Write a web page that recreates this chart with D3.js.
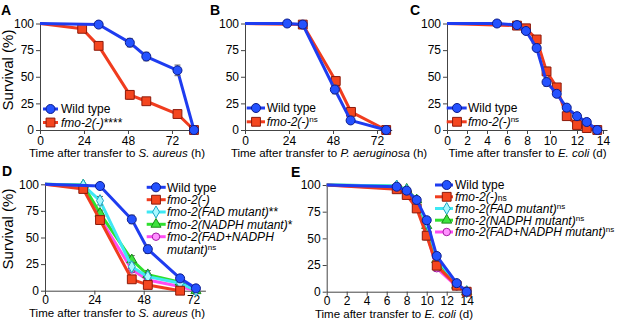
<!DOCTYPE html>
<html>
<head>
<meta charset="utf-8">
<script src="https://cdn.jsdelivr.net/npm/d3@7"></script>
<style>
  body { margin: 0; background: #fff; }
  svg text { font-family: Arial, "Liberation Sans", Helvetica, sans-serif; }
</style>
</head>
<body>
<svg id="fig" width="617" height="324"></svg>
<script>
// survival curves, panels A-E

// tick values
const survTicks = [0, 25, 50, 75, 100];
const hourTicks = [0, 24, 48, 72];
const dayTicks = [0, 2, 4, 6, 8, 10, 12, 14];

// A - S. aureus (h)
const aWtTime = [0, 32, 49, 58, 75, 84];
const aWtSurv = [100, 99, 82, 69, 56, 0];
const aWtErr = [0, 0, 4, 4, 5, 0];
const aMutTime = [0, 23, 32, 49, 58, 75, 84];
const aMutSurv = [100, 95, 79, 33, 27, 15, 0];
const aMutErr = [0, 1, 2, 4, 3, 2, 0];

// B - P. aeruginosa (h)
const bWtTime = [0, 23, 31.5, 49, 57.6, 77];
const bWtSurv = [100, 100, 99, 38, 9, 0];
const bWtErr = [0, 0, 0, 4, 2, 0];
const bMutTime = [0, 31.5, 49.5, 57.8, 77];
const bMutSurv = [100, 99, 46, 17, 0];
const bMutErr = [0, 0, 4, 2, 0];

// C - E. coli (d)
const cWtTime = [0, 5, 7, 7.9, 8.84, 9.7, 10.5, 11.24, 12, 12.75, 13.56];
const cWtSurv = [100, 100, 98.5, 93, 77, 45, 34, 21, 13, 7.5, 0];
const cWtErr = [0, 0, 0, 1, 2, 4, 3, 3, 3, 2, 0];
const cMutTime = [0, 7, 7.9, 8.84, 9.7, 10.5, 11.24, 12, 12.75, 13.56];
const cMutSurv = [100, 98, 95.5, 85, 55, 40, 13, 4.7, 1.8, 0];
const cMutErr = [0, 0, 1, 2, 4, 3, 2, 1, 0, 0];

// D - S. aureus (h), rescue constructs
const dWtTime = [0, 26.75, 42.2, 50, 65.7, 73.4];
const dWtSurv = [100, 98.4, 67, 39, 11.6, 2.2];
const dWtErr = [0, 0, 4, 4, 3, 2];
const dMutTime = [0, 18.6, 26.75, 42.2, 50, 65.7];
const dMutSurv = [100, 95.6, 66.4, 10.7, 5.4, 0];
const dMutErr = [0, 1, 4, 3, 2, 0];
const dRescueTime = [0, 18.6, 26.75, 42.2, 50, 65.7, 73.4];
const dFadSurv = [100, 99, 84.6, 22.6, 13.2, 7, 0.5];
const dFadErr = [0, 0, 4, 4, 3, 2, 0];
const dNadphSurv = [100, 99.3, 72.7, 29, 15, 8, 0];
const dNadphErr = [0, 0, 3, 4, 4, 2, 0];
const dBothSurv = [100, 97, 68, 20, 10, 4, 0];
const dBothErr = [0, 0, 3, 3, 3, 2, 0];

// E - E. coli (d), rescue constructs
const eTime = [0, 7, 8, 9, 10, 11, 13, 14];
const eWtSurv = [100, 98.4, 94.7, 86, 67, 33.5, 8, 0];
const eWtErr = [0, 0, 2, 3, 3, 3, 2, 0];
const eMutSurv = [100, 96, 90.6, 78, 52.5, 24.4, 5.6, 0];
const eMutErr = [0, 1, 2, 3, 4, 4, 2, 0];
const eFadSurv = [100, 99, 95, 85, 65, 32, 7, 0];
const eNadphSurv = [100, 99, 96, 86, 62, 30, 6, 0];
const eBothSurv = [100, 97, 92, 80, 55, 22, 5, 0];
const eSmallErr = [0, 0, 1, 2, 3, 3, 1, 0];

const styles = {
  wt:    { line: '#1e3cf0', fill: '#2452ff', stroke: '#0c1c8c', shape: d3.symbolCircle, size: 64 },
  mut:   { line: '#f03c1e', fill: '#f4461f', stroke: '#8c1a0a', shape: d3.symbolSquare, size: 78 },
  fad:   { line: '#3ee8f4', fill: '#a8f8ff', stroke: '#1ba6c4', shape: d3.symbolDiamond, size: 42 },
  nadph: { line: '#2ee02e', fill: '#3ee23e', stroke: '#178c17', shape: d3.symbolTriangle, size: 44 },
  both:  { line: '#ff4df2', fill: '#ff90ff', stroke: '#a31aa3', shape: d3.symbolCircle, size: 44 }
};

const fig = d3.select('#fig');

function addParts(txt, parts) {
  parts.forEach(([str, kind]) => {
    const ts = txt.append('tspan').text(str);
    if (kind === 'i') ts.attr('font-style', 'italic');
    if (kind === 'sup') ts.attr('font-size', 8).attr('dy', -4);
    if (kind === 'sub') ts.attr('font-size', 8.5);
  });
}

function drawSeries(g, x, y, t, s, e, st) {
  const pts = t.map((v, i) => ({ t: v, s: s[i], e: e[i] }));
  g.append('path').datum(pts)
    .attr('d', d3.line().x(d => x(d.t)).y(d => y(d.s)))
    .attr('fill', 'none')
    .attr('stroke', st.line)
    .attr('stroke-width', 3)
    .attr('stroke-linejoin', 'round');

  const eb = g.append('g').attr('stroke', '#666').attr('stroke-width', 1);
  pts.filter(d => d.e > 0).forEach(d => {
    const cx = x(d.t), top = y(Math.min(100, d.s + d.e)), bot = y(Math.max(0, d.s - d.e));
    eb.append('line').attr('x1', cx).attr('x2', cx).attr('y1', top).attr('y2', bot);
    eb.append('line').attr('x1', cx - 3).attr('x2', cx + 3).attr('y1', top).attr('y2', top);
    eb.append('line').attr('x1', cx - 3).attr('x2', cx + 3).attr('y1', bot).attr('y2', bot);
  });

  g.selectAll(null)
    .data(pts.filter(d => d.t > 0))
    .join('path')
    .attr('transform', d => `translate(${x(d.t)},${y(d.s)})`)
    .attr('d', d3.symbol(st.shape, st.size))
    .attr('fill', st.fill)
    .attr('stroke', st.stroke)
    .attr('stroke-width', 1);
}

function drawLegend(g, lg) {
  lg.rows.forEach(r => {
    const st = styles[r.key];
    g.append('line')
      .attr('x1', lg.x1).attr('x2', lg.x2).attr('y1', r.y).attr('y2', r.y)
      .attr('stroke', st.line).attr('stroke-width', 3);
    g.append('path')
      .attr('transform', `translate(${lg.mx},${r.y})`)
      .attr('d', d3.symbol(st.shape, st.size))
      .attr('fill', st.fill).attr('stroke', st.stroke);
    const t = g.append('text').attr('x', lg.tx).attr('y', r.y).attr('dy', '0.36em')
      .attr('font-size', 12).attr('fill', '#000');
    addParts(t, r.parts);
    if (r.more) {
      const t2 = g.append('text').attr('x', lg.tx).attr('y', r.y + 12.5).attr('dy', '0.36em')
        .attr('font-size', 12).attr('fill', '#000');
      addParts(t2, r.more);
    }
  });
}

function panel(cfg) {
  const g = fig.append('g');
  const x = d3.scaleLinear().domain(cfg.xDomain).range(cfg.xRange);
  const y = d3.scaleLinear().domain([0, 100]).range([cfg.yBottom, cfg.yTop]);
  const x0 = cfg.xRange[0];

  const ya = g.append('g').attr('transform', `translate(${x0},0)`)
    .call(d3.axisLeft(y).tickValues(survTicks).tickSize(4).tickSizeOuter(0).tickPadding(2));
  const xa = g.append('g').attr('transform', `translate(0,${cfg.yBottom})`)
    .call(d3.axisBottom(x).tickValues(cfg.xTicks).tickSize(4).tickSizeOuter(0).tickPadding(cfg.xPad || 2));
  [ya, xa].forEach(a => {
    a.attr('font-family', null);
    a.selectAll('text').attr('font-size', 12).attr('fill', '#000');
    a.select('.domain').attr('stroke', '#444');
    a.selectAll('.tick line').attr('stroke', '#444');
  });

  cfg.series.forEach(sr => drawSeries(g, x, y, sr.t, sr.s, sr.e, styles[sr.key]));

  // panel letter
  g.append('text').attr('x', cfg.letter[1]).attr('y', cfg.letter[2])
    .attr('font-size', 14).attr('font-weight', 'bold').text(cfg.letter[0]);

  // x title
  const xt = g.append('text').attr('x', cfg.xTitlePos[0]).attr('y', cfg.xTitlePos[1])
    .attr('text-anchor', 'middle').attr('font-size', 11.5);
  addParts(xt, cfg.xTitle);

  if (cfg.yTitle) {
    g.append('text')
      .attr('transform', `translate(13,${cfg.yTitle}) rotate(-90)`)
      .attr('text-anchor', 'middle').attr('font-size', 15)
      .text('Survival (%)');
  }

  drawLegend(g, cfg.legend);
}

panel({
  letter: ['A', 1, 15],
  xDomain: [0, 85], xRange: [40, 195.8], xTicks: hourTicks,
  yTop: 23.5, yBottom: 130,
  xTitle: [['Time after transfer to ', 'n'], ['S. aureus', 'i'], [' (h)', 'n']],
  xTitlePos: [117, 157],
  yTitle: 70,
  series: [
    { key: 'mut', t: aMutTime, s: aMutSurv, e: aMutErr },
    { key: 'wt', t: aWtTime, s: aWtSurv, e: aWtErr }
  ],
  legend: { x1: 43, x2: 58, mx: 50.5, tx: 61, rows: [
    { key: 'wt', y: 109, parts: [['Wild type', 'n']] },
    { key: 'mut', y: 122.5, parts: [['fmo-2(-)', 'i'], ['****', 'n']] }
  ] }
});

panel({
  letter: ['B', 210, 15],
  xDomain: [0, 80], xRange: [245, 391.7], xTicks: hourTicks,
  yTop: 23.5, yBottom: 130,
  xTitle: [['Time after transfer to ', 'n'], ['P. aeruginosa', 'i'], [' (h)', 'n']],
  xTitlePos: [329, 157],
  series: [
    { key: 'mut', t: bMutTime, s: bMutSurv, e: bMutErr },
    { key: 'wt', t: bWtTime, s: bWtSurv, e: bWtErr }
  ],
  legend: { x1: 246.7, x2: 265, mx: 256, tx: 266.7, rows: [
    { key: 'wt', y: 108, parts: [['Wild type', 'n']] },
    { key: 'mut', y: 121.8, parts: [['fmo-2(-)', 'i'], ['ns', 'sup']] }
  ] }
});

panel({
  letter: ['C', 410, 15],
  xDomain: [0, 8, 10, 12, 14, 14.3], xRange: [447, 527, 550, 577, 603, 607], xTicks: dayTicks,
  yTop: 23.5, yBottom: 130,
  xTitle: [['Time after transfer to ', 'n'], ['E. coli', 'i'], [' (d)', 'n']],
  xTitlePos: [527.5, 157],
  series: [
    { key: 'mut', t: cMutTime, s: cMutSurv, e: cMutErr },
    { key: 'wt', t: cWtTime, s: cWtSurv, e: cWtErr }
  ],
  legend: { x1: 446.7, x2: 466.7, mx: 457, tx: 468, rows: [
    { key: 'wt', y: 108, parts: [['Wild type', 'n']] },
    { key: 'mut', y: 121.8, parts: [['fmo-2(-)', 'i'], ['ns', 'sup']] }
  ] }
});

panel({
  letter: ['D', 2, 176],
  xDomain: [0, 78], xRange: [45, 205.4], xTicks: hourTicks, xPad: 1,
  yTop: 184.3, yBottom: 290.7,
  xTitle: [['Time after transfer to ', 'n'], ['S. aureus', 'i'], [' (h)', 'n']],
  xTitlePos: [117, 317],
  yTitle: 229,
  series: [
    { key: 'both', t: dRescueTime, s: dBothSurv, e: dBothErr },
    { key: 'nadph', t: dRescueTime, s: dNadphSurv, e: dNadphErr },
    { key: 'fad', t: dRescueTime, s: dFadSurv, e: dFadErr },
    { key: 'mut', t: dMutTime, s: dMutSurv, e: dMutErr },
    { key: 'wt', t: dWtTime, s: dWtSurv, e: dWtErr }
  ],
  legend: { x1: 146.7, x2: 165.7, mx: 156, tx: 167, rows: [
    { key: 'wt', y: 187.3, parts: [['Wild type', 'n']] },
    { key: 'mut', y: 199.7, parts: [['fmo-2(-)', 'i']] },
    { key: 'fad', y: 212, parts: [['fmo-2(FAD mutant)', 'i'], ['**', 'n']] },
    { key: 'nadph', y: 224.3, parts: [['fmo-2(NADPH mutant)', 'i'], ['*', 'n']] },
    { key: 'both', y: 236.7, parts: [['fmo-2(FAD+NADPH', 'i']],
      more: [['mutant)', 'i'], ['ns', 'sup']] }
  ] }
});

panel({
  letter: ['E', 291, 177],
  xDomain: [0, 14.3], xRange: [326.7, 469.7], xTicks: dayTicks, xPad: 1,
  yTop: 185, yBottom: 291.7,
  xTitle: [['Time after transfer to ', 'n'], ['E. coli', 'i'], [' (d)', 'n']],
  xTitlePos: [394, 317.5],
  series: [
    { key: 'both', t: eTime, s: eBothSurv, e: eSmallErr },
    { key: 'nadph', t: eTime, s: eNadphSurv, e: eSmallErr },
    { key: 'fad', t: eTime, s: eFadSurv, e: eSmallErr },
    { key: 'mut', t: eTime, s: eMutSurv, e: eMutErr },
    { key: 'wt', t: eTime, s: eWtSurv, e: eWtErr }
  ],
  legend: { x1: 435, x2: 453, mx: 446.7, tx: 455, rows: [
    { key: 'wt', y: 185, parts: [['Wild type', 'n']] },
    { key: 'mut', y: 196.8, parts: [['fmo-2(-)', 'i'], ['ns', 'sub']] },
    { key: 'fad', y: 208.5, parts: [['fmo-2(FAD mutant)', 'i'], ['ns', 'sup']] },
    { key: 'nadph', y: 220.2, parts: [['fmo-2(NADPH mutant)', 'i'], ['ns', 'sup']] },
    { key: 'both', y: 232, parts: [['fmo-2(FAD+NADPH mutant)', 'i'], ['ns', 'sup']] }
  ] }
});
</script>
</body>
</html>
